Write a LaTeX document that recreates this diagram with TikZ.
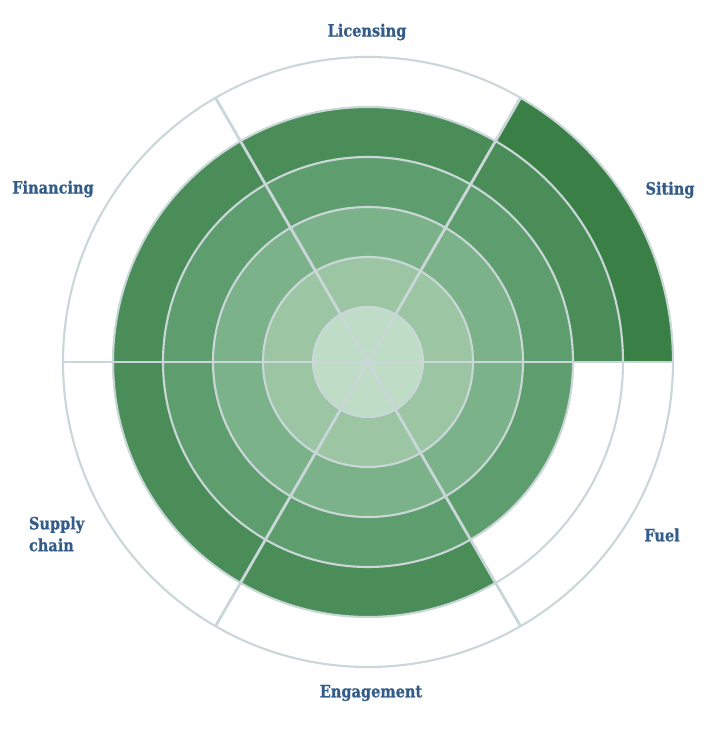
\documentclass[tikz,border=0pt]{standalone}
\usepackage{fontspec}
\setmainfont{DejaVu Serif}
\newfontfamily\labelfont[FakeStretch=0.86, BoldFeatures={FakeBold=0.8}]{DejaVu Serif}
\usetikzlibrary{calc}

\definecolor{ring1}{HTML}{BEDCC6}
\definecolor{ring2}{HTML}{9CC5A4}
\definecolor{ring3}{HTML}{7CB289}
\definecolor{ring4}{HTML}{5E9D6D}
\definecolor{ring5}{HTML}{4A8D59}
\definecolor{ring6}{HTML}{3A7F45}
\definecolor{gridgray}{HTML}{CAD7D9}
\definecolor{labelblue}{HTML}{335C88}

\tikzset{
  grid line/.style={draw=gridgray, line width=1.5pt},
  spoke/.style={draw=gridgray, line width=2pt},
  sectorlabel/.style={font=\labelfont\bfseries\fontsize{12}{15.5}\selectfont, text=labelblue},
}

\begin{document}
\begin{tikzpicture}[x=0.025cm, y=0.025cm]
\useasboundingbox (0,0) rectangle (718,730);
\coordinate (c) at (368,368);

% wedges: start angle / rings filled
\foreach \a/\n in {0/6, 60/5, 120/5, 180/5, 240/5, 300/4} {
  \foreach \k in {1,...,\n} {
    \pgfmathsetmacro\rin{\k==1 ? 0.01 : 50*\k-45}
    \pgfmathsetmacro\rout{50*\k+5}
    \fill[ring\k] ($(c)+(\a:\rout)$) arc[start angle=\a, end angle=\a+60, radius=\rout]
      -- ($(c)+(\a+60:\rin)$) arc[start angle=\a+60, end angle=\a, radius=\rin] -- cycle;
  }
}

% rings
\foreach \r in {55,105,...,305}
  \draw[grid line] (c) circle[radius=\r];

% spokes
\foreach \a in {0,60,...,300}
  \draw[spoke] (c) -- ($(c)+(\a:305)$);

\node[sectorlabel] (licensing) at (367,698) {Licensing};
\node[sectorlabel] (siting) at (670,540) {Siting};
\node[sectorlabel] (fuel) at (662,195) {Fuel};
\node[sectorlabel] (engagement) at (371,37) {Engagement};
\node[sectorlabel, align=left, anchor=west] (supply) at (24,196) {Supply\\chain};
\node[sectorlabel] (financing) at (53,541) {Financing};

\end{tikzpicture}
\end{document}
